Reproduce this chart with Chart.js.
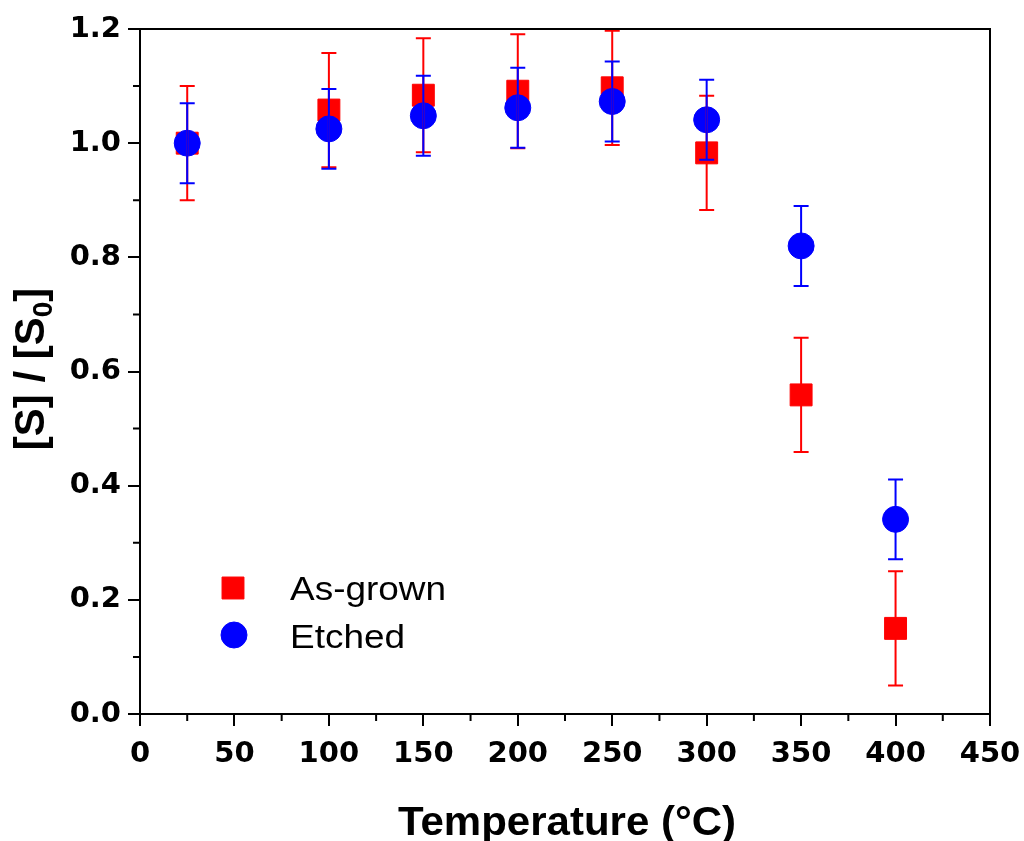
<!DOCTYPE html>
<html><head><meta charset="utf-8">
<script src="https://cdn.jsdelivr.net/npm/chart.js@4.4.0/dist/chart.umd.min.js"></script>
<style>html,body{margin:0;padding:0;background:#fff;}#wrap{width:1024px;height:841px;}</style>
</head><body><div id="wrap"><canvas id="c" width="1024" height="841"></canvas></div>
<script>
const temperatures = [25, 100, 150, 200, 250, 300, 350, 400];
const asGrown = [1.000, 1.058, 1.084, 1.091, 1.097, 0.983, 0.559, 0.150];
const asGrownErr = [0.10, 0.10, 0.10, 0.10, 0.10, 0.10, 0.10, 0.10];
const etched = [1.000, 1.025, 1.048, 1.062, 1.073, 1.041, 0.820, 0.341];
const etchedErr = [0.07, 0.07, 0.07, 0.07, 0.07, 0.07, 0.07, 0.07];
const seriesLabels = ['As-grown', 'Etched'];
const xMinorTicks = [25, 75, 125, 175, 225, 275, 325, 375, 425];
const yMinorTicks = [0.1, 0.3, 0.5, 0.7, 0.9, 1.1];
const xTitle = 'Temperature (°C)';
const yTitleParts = ['[S] / [S', '0', ']'];

const RED = '#FF0000', BLUE = '#0000FF';

const errorBars = {
  id: 'errorBars',
  afterDatasetsDraw(chart) {
    const {ctx, scales: {x, y}} = chart;
    chart.data.datasets.forEach(ds => {
      ctx.save();
      ctx.strokeStyle = ds.borderColor;
      ctx.lineWidth = 2;
      ds.data.forEach((p, i) => {
        const e = ds.errors[i];
        const px = x.getPixelForValue(p.x);
        const yt = y.getPixelForValue(p.y + e);
        const yb = y.getPixelForValue(p.y - e);
        ctx.beginPath();
        ctx.moveTo(px, yt); ctx.lineTo(px, yb);
        ctx.moveTo(px - 7.5, yt); ctx.lineTo(px + 7.5, yt);
        ctx.moveTo(px - 7.5, yb); ctx.lineTo(px + 7.5, yb);
        ctx.stroke();
      });
      ctx.restore();
    });
  }
};

const decor = {
  id: 'decor',
  afterDraw(chart) {
    const {ctx, chartArea: a, scales: {x, y}} = chart;
    ctx.save();
    ctx.strokeStyle = '#000';
    ctx.lineWidth = 2;
    ctx.strokeRect(a.left, a.top, a.right - a.left, a.bottom - a.top);
    ctx.beginPath();
    xMinorTicks.forEach(v => { const px = x.getPixelForValue(v); ctx.moveTo(px, a.bottom); ctx.lineTo(px, a.bottom + 7); });
    yMinorTicks.forEach(v => { const py = y.getPixelForValue(v); ctx.moveTo(a.left - 7, py); ctx.lineTo(a.left, py); });
    ctx.stroke();
    ctx.fillStyle = '#000';
    // x title
    ctx.save();
    ctx.translate((a.left + a.right) / 2 + 2, 835);
    ctx.scale(1.05, 1);
    ctx.font = 'bold 40px "Liberation Sans", Arial, sans-serif';
    ctx.textAlign = 'center';
    ctx.textBaseline = 'alphabetic';
    ctx.fillText(xTitle, 0, 0);
    ctx.restore();
    // y title with subscript
    ctx.save();
    ctx.translate(44, 369);
    ctx.rotate(-Math.PI / 2);
    const fMain = 'bold 42px "Liberation Sans", Arial, sans-serif';
    const fSub = 'bold 28px "Liberation Sans", Arial, sans-serif';
    ctx.font = fMain; const w1 = ctx.measureText(yTitleParts[0]).width;
    ctx.font = fSub; const w2 = ctx.measureText(yTitleParts[1]).width;
    ctx.font = fMain; const w3 = ctx.measureText(yTitleParts[2]).width;
    let sx = -(w1 + w2 + w3) / 2;
    ctx.textBaseline = 'alphabetic'; ctx.textAlign = 'left';
    ctx.font = fMain; ctx.fillText(yTitleParts[0], sx, 0); sx += w1;
    ctx.font = fSub; ctx.fillText(yTitleParts[1], sx, 8); sx += w2;
    ctx.font = fMain; ctx.fillText(yTitleParts[2], sx, 0);
    ctx.restore();
    // legend
    const legPos = [[233, 588, 600], [234, 635, 648]];
    chart.data.datasets.forEach((ds, i) => {
      const [mx, my, by] = legPos[i];
      ctx.fillStyle = ds.backgroundColor;
      ctx.strokeStyle = ds.borderColor;
      ctx.lineWidth = ds.borderWidth;
      Chart.helpers.drawPoint(ctx, {pointStyle: ds.pointStyle, radius: ds.pointRadius, borderWidth: ds.borderWidth, rotation: 0}, mx, my);
      ctx.save();
      ctx.translate(290, by);
      ctx.scale(1.12, 1);
      ctx.fillStyle = '#000';
      ctx.font = '33px "Liberation Sans", Arial, sans-serif';
      ctx.textAlign = 'left'; ctx.textBaseline = 'alphabetic';
      ctx.fillText(ds.label, 0, 0);
      ctx.restore();
    });
    ctx.restore();
  }
};

const tickFont = {family: '"DejaVu Sans", sans-serif', weight: 'bold', size: 29};

new Chart(document.getElementById('c'), {
  type: 'scatter',
  data: {
    datasets: [
      {label: seriesLabels[0], data: temperatures.map((t, i) => ({x: t, y: asGrown[i]})), errors: asGrownErr,
       pointStyle: 'rect', pointRadius: 15.5, pointHoverRadius: 15.5, backgroundColor: RED, borderColor: RED, borderWidth: 1, order: 2},
      {label: seriesLabels[1], data: temperatures.map((t, i) => ({x: t, y: etched[i]})), errors: etchedErr,
       pointStyle: 'circle', pointRadius: 13, pointHoverRadius: 13, backgroundColor: BLUE, borderColor: BLUE, borderWidth: 1, order: 1}
    ]
  },
  options: {
    responsive: false, animation: false, devicePixelRatio: 1,
    layout: {padding: {top: 29, right: 34, left: 0, bottom: 0}},
    plugins: {legend: {display: false}, tooltip: {enabled: false}},
    scales: {
      x: {
        type: 'linear', min: 0, max: 450,
        ticks: {stepSize: 50, color: '#000', font: tickFont, padding: 11, maxRotation: 0},
        grid: {display: true, drawOnChartArea: false, drawTicks: true, tickLength: 12, color: '#000', lineWidth: 2},
        border: {display: true, color: '#000', width: 2},
        afterFit(s) { s.height = 127; s.paddingLeft = 0; s.paddingRight = 0; }
      },
      y: {
        type: 'linear', min: 0, max: 1.2,
        ticks: {stepSize: 0.2, color: '#000', font: tickFont, padding: 7, callback: v => Number(v).toFixed(1)},
        grid: {display: true, drawOnChartArea: false, drawTicks: true, tickLength: 12, color: '#000', lineWidth: 2},
        border: {display: true, color: '#000', width: 2},
        afterFit(s) { s.width = 140; s.paddingTop = 0; s.paddingBottom = 0; }
      }
    }
  },
  plugins: [errorBars, decor]
});
</script></body></html>
